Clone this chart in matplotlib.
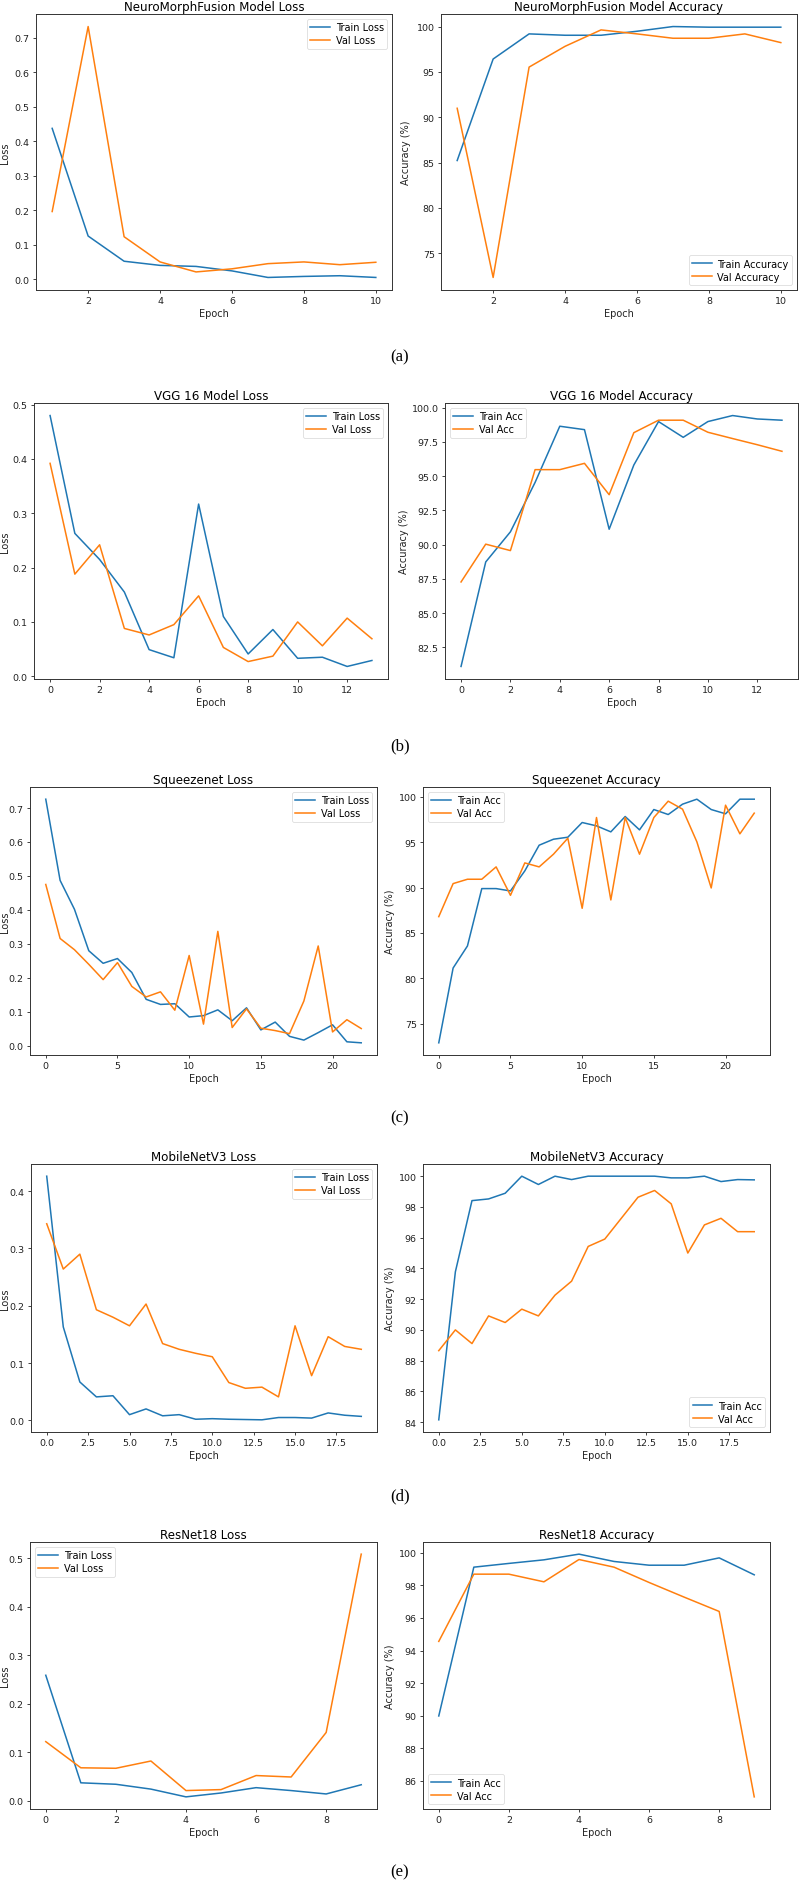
import matplotlib
matplotlib.use("Agg")
import matplotlib.pyplot as plt
from matplotlib.ticker import MultipleLocator

# ---------------- data ----------------
# (a) NeuroMorphFusion
nmf_epochs = list(range(1, 11))
nmf_train_loss = [0.437, 0.125, 0.052, 0.040, 0.037, 0.024, 0.005, 0.008, 0.010, 0.005]
nmf_val_loss = [0.196, 0.732, 0.123, 0.050, 0.021, 0.030, 0.045, 0.050, 0.042, 0.049]
nmf_train_acc = [85.23, 96.42, 99.19, 99.04, 99.04, 99.48, 100.0, 99.93, 99.93, 99.93]
nmf_val_acc = [90.99, 72.34, 95.53, 97.82, 99.63, 99.19, 98.71, 98.71, 99.19, 98.23]

# (b) VGG 16
vgg_epochs = list(range(0, 14))
vgg_train_loss = [0.480, 0.263, 0.215, 0.155, 0.049, 0.034, 0.317, 0.110, 0.041, 0.086, 0.033, 0.035, 0.018, 0.029]
vgg_val_loss = [0.392, 0.188, 0.242, 0.088, 0.076, 0.095, 0.148, 0.053, 0.027, 0.037, 0.100, 0.056, 0.107, 0.069]
vgg_train_acc = [81.11, 88.74, 90.94, 94.55, 98.65, 98.40, 91.13, 95.82, 98.99, 97.84, 98.99, 99.43, 99.18, 99.09]
vgg_val_acc = [87.28, 90.04, 89.57, 95.48, 95.48, 95.94, 93.65, 98.18, 99.09, 99.09, 98.21, 97.75, 97.30, 96.82]

# (c) Squeezenet
sq_epochs = list(range(0, 23))
sq_train_loss = [0.726, 0.487, 0.402, 0.280, 0.243, 0.257, 0.216, 0.137, 0.122, 0.124, 0.085, 0.089,
                 0.106, 0.074, 0.112, 0.047, 0.070, 0.028, 0.017, 0.039, 0.062, 0.012, 0.009]
sq_val_loss = [0.475, 0.316, 0.283, 0.240, 0.195, 0.245, 0.175, 0.144, 0.159, 0.105, 0.266, 0.064,
               0.337, 0.054, 0.109, 0.052, 0.045, 0.036, 0.132, 0.294, 0.041, 0.077, 0.051]
sq_train_acc = [72.90, 81.14, 83.57, 89.89, 89.89, 89.63, 91.84, 94.67, 95.33, 95.55, 97.17, 96.80,
                96.14, 97.83, 96.36, 98.60, 98.05, 99.19, 99.74, 98.60, 98.13, 99.74, 99.74]
sq_val_acc = [86.80, 90.44, 90.92, 90.92, 92.28, 89.15, 92.72, 92.28, 93.68, 95.44, 87.72, 97.72,
              88.64, 97.72, 93.68, 97.72, 99.52, 98.64, 95.04, 89.96, 99.08, 95.92, 98.20]

# (d) MobileNetV3
mb_epochs = list(range(0, 20))
mb_train_loss = [0.426, 0.163, 0.067, 0.041, 0.043, 0.010, 0.020, 0.008, 0.010, 0.002,
                 0.003, 0.002, 0.0015, 0.001, 0.005, 0.005, 0.004, 0.013, 0.009, 0.007]
mb_val_loss = [0.343, 0.264, 0.290, 0.193, 0.180, 0.165, 0.203, 0.134, 0.124, 0.117,
               0.111, 0.066, 0.056, 0.058, 0.041, 0.165, 0.078, 0.146, 0.129, 0.124]
mb_train_acc = [84.15, 93.78, 98.41, 98.52, 98.89, 100.0, 99.46, 100.0, 99.78, 100.0,
                100.0, 100.0, 100.0, 100.0, 99.89, 99.89, 100.0, 99.65, 99.78, 99.76]
mb_val_acc = [88.65, 90.00, 89.11, 90.91, 90.48, 91.35, 90.91, 92.26, 93.17, 95.43,
              95.91, 97.27, 98.63, 99.07, 98.20, 95.00, 96.83, 97.26, 96.39, 96.39]

# (e) ResNet18
rn_epochs = list(range(0, 10))
rn_train_loss = [0.259, 0.037, 0.034, 0.024, 0.008, 0.016, 0.027, 0.021, 0.014, 0.033]
rn_val_loss = [0.122, 0.068, 0.067, 0.082, 0.021, 0.023, 0.052, 0.049, 0.141, 0.509]
rn_train_acc = [89.98, 99.12, 99.35, 99.57, 99.92, 99.47, 99.24, 99.24, 99.69, 98.65]
rn_val_acc = [94.56, 98.69, 98.69, 98.22, 99.59, 99.12, 98.18, 97.28, 96.40, 85.01]

captions = ["(a)", "(b)", "(c)", "(d)", "(e)"]

# ---------------- layout ----------------
W, H = 799, 1883
fig = plt.figure(figsize=(W / 100, H / 100), dpi=100)
fig.patch.set_facecolor("white")

BLUE = "#1f77b4"
ORANGE = "#ff7f0e"
TICK_FS = 6.8
LAB_FS = 7.0
TITLE_FS = 8.6
LEG_FS = 7.0


def make_ax(l, t, r, b):
    return fig.add_axes([l / W, 1 - b / H, (r - l) / W, (b - t) / H])


def style(ax, title, xmaj, ymaj):
    ax.set_title(title, fontsize=TITLE_FS, pad=3)
    ax.xaxis.set_major_locator(MultipleLocator(xmaj))
    ax.yaxis.set_major_locator(MultipleLocator(ymaj))
    ax.tick_params(labelsize=TICK_FS, length=2.5, width=0.6, pad=2, colors="#222222")
    for s in ax.spines.values():
        s.set_linewidth(0.7)
        s.set_color("#333333")
    ax.set_xlabel("Epoch", fontsize=LAB_FS, labelpad=2, color="#222222")


def ylab(text, xpx, t, b):
    fig.text(xpx / W, 1 - ((t + b) / 2) / H, text, rotation=90, ha="center", va="center",
             fontsize=LAB_FS, color="#222222")


def panel(rect, x, tr, va, lab_tr, lab_va, title, xmaj, ymaj, loc, ylabel, ylx):
    ax = make_ax(*rect)
    ax.plot(x, tr, color=BLUE, lw=1.1, label=lab_tr)
    ax.plot(x, va, color=ORANGE, lw=1.1, label=lab_va)
    style(ax, title, xmaj, ymaj)
    leg = ax.legend(loc=loc, fontsize=LEG_FS, handlelength=2.0, borderpad=0.35,
                    labelspacing=0.3, handletextpad=0.6, framealpha=0.8)
    leg.get_frame().set_linewidth(0.5)
    ylab(ylabel, ylx, rect[1], rect[3])
    return ax


# row (a)
panel((36, 15, 392, 291), nmf_epochs, nmf_train_loss, nmf_val_loss, "Train Loss", "Val Loss",
      "NeuroMorphFusion Model Loss", 2, 0.1, "upper right", "Loss", 5)
panel((441, 15, 797, 291), nmf_epochs, nmf_train_acc, nmf_val_acc, "Train Accuracy", "Val Accuracy",
      "NeuroMorphFusion Model Accuracy", 2, 5, "lower right", "Accuracy (%)", 406)

# row (b)
panel((34, 404, 388, 680), vgg_epochs, vgg_train_loss, vgg_val_loss, "Train Loss", "Val Loss",
      "VGG 16 Model Loss", 2, 0.1, "upper right", "Loss", 5)
panel((445, 404, 798, 680), vgg_epochs, vgg_train_acc, vgg_val_acc, "Train Acc", "Val Acc",
      "VGG 16 Model Accuracy", 2, 2.5, "upper left", "Accuracy (%)", 404)

# row (c)
panel((30, 788, 377, 1056), sq_epochs, sq_train_loss, sq_val_loss, "Train Loss", "Val Loss",
      "Squeezenet Loss", 5, 0.1, "upper right", "Loss", 5)
panel((423, 788, 770, 1056), sq_epochs, sq_train_acc, sq_val_acc, "Train Acc", "Val Acc",
      "Squeezenet Accuracy", 5, 5, "upper left", "Accuracy (%)", 390)

# row (d)
panel((31, 1165, 377, 1433), mb_epochs, mb_train_loss, mb_val_loss, "Train Loss", "Val Loss",
      "MobileNetV3 Loss", 2.5, 0.1, "upper right", "Loss", 5)
panel((423, 1165, 770, 1433), mb_epochs, mb_train_acc, mb_val_acc, "Train Acc", "Val Acc",
      "MobileNetV3 Accuracy", 2.5, 2, "lower right", "Accuracy (%)", 390)

# row (e)
panel((30, 1543, 377, 1810), rn_epochs, rn_train_loss, rn_val_loss, "Train Loss", "Val Loss",
      "ResNet18 Loss", 2, 0.1, "upper left", "Loss", 5)
panel((423, 1543, 770, 1810), rn_epochs, rn_train_acc, rn_val_acc, "Train Acc", "Val Acc",
      "ResNet18 Accuracy", 2, 2, "lower left", "Accuracy (%)", 390)

# captions
cap_y = [357, 746, 1118, 1496, 1872]
for c, y in zip(captions, cap_y):
    fig.text(400 / W, 1 - y / H, c, ha="center", va="center", fontsize=12,
             family=["Liberation Serif", "DejaVu Serif"])

fig.savefig("out.png", dpi=100, facecolor="white")
